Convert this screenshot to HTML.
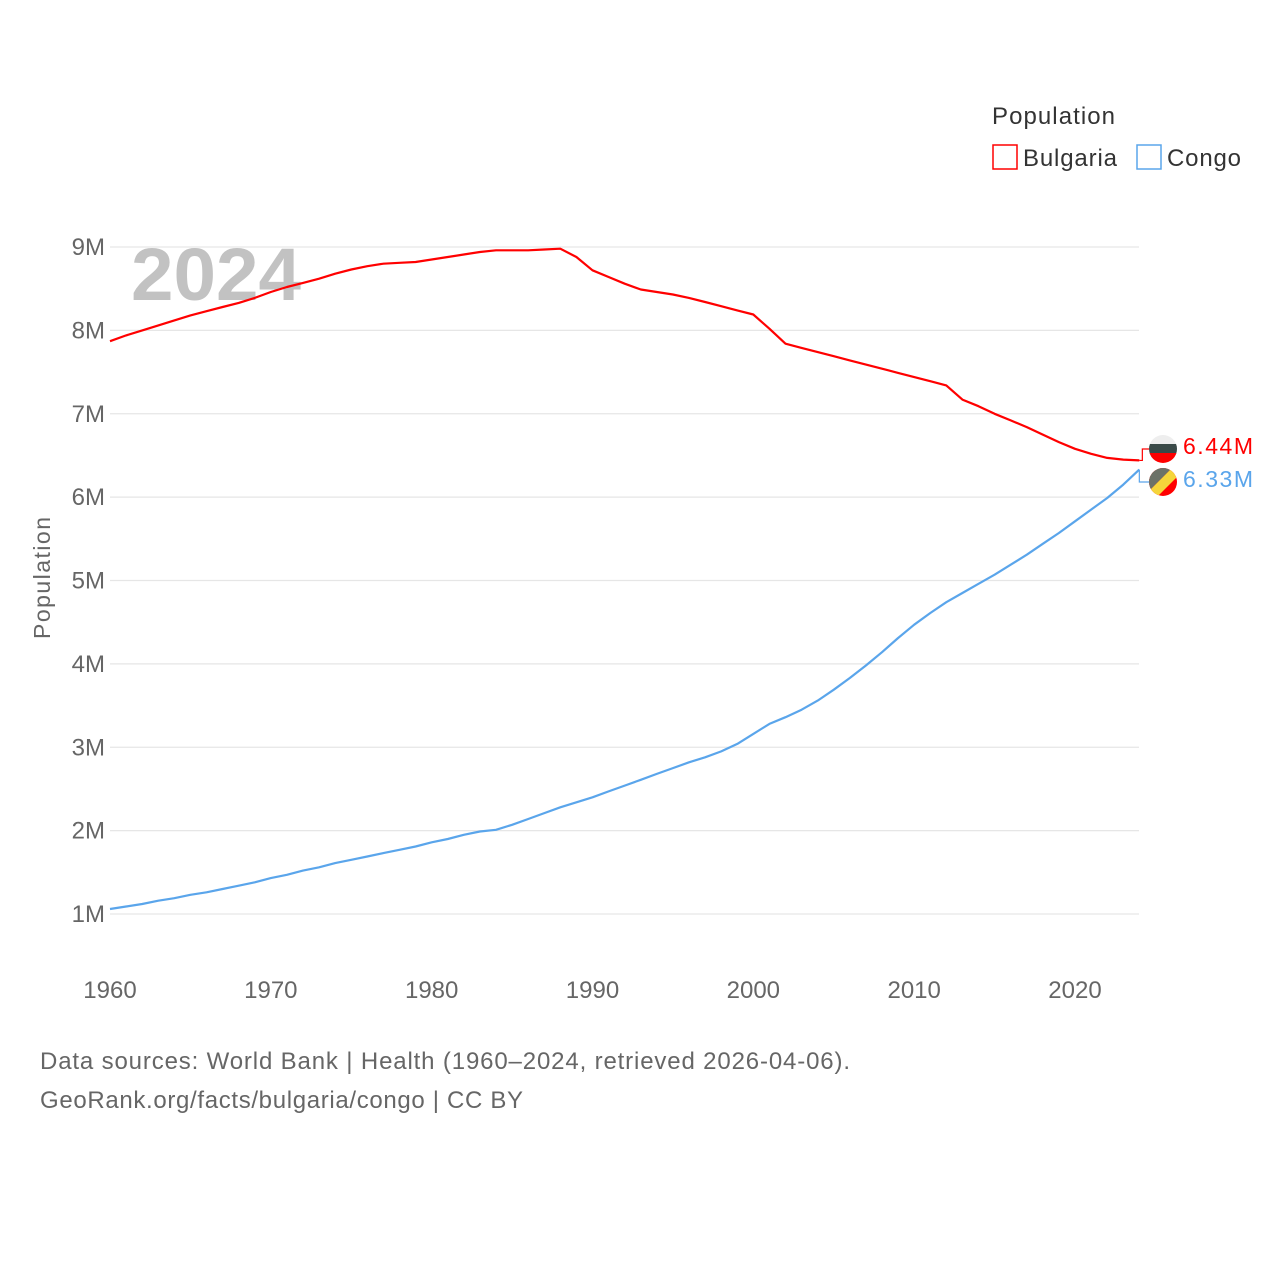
<!DOCTYPE html>
<html><head><meta charset="utf-8">
<style>
body{margin:0;background:#fff;font-family:"Liberation Sans",sans-serif;}
svg text{font-family:"Liberation Sans",sans-serif;}
</style></head>
<body>
<svg id="chart" width="1280" height="1280" viewBox="0 0 1280 1280">
<defs>
<clipPath id="c1"><circle cx="1163" cy="449" r="14"/></clipPath>
<clipPath id="c2"><circle cx="1163" cy="482" r="14"/></clipPath>
</defs>
<g id="grid"></g>
<g id="yticks"></g>
<g id="xticks"></g>
<text x="131" y="300" font-size="74" font-weight="bold" fill="#c2c2c2" textLength="170" lengthAdjust="spacingAndGlyphs">2024</text>
<text transform="translate(50,578) rotate(-90)" text-anchor="middle" font-size="23" fill="#666" textLength="122">Population</text>
<g id="series"></g>
<g>
<text x="992" y="124" font-size="24" fill="#333" textLength="123">Population</text>
<g><rect x="993" y="145" width="24" height="24" fill="none" stroke="#f00" stroke-width="1.5"/><text x="1023" y="166" font-size="24" fill="#333" textLength="94">Bulgaria</text></g>
<g><rect x="1137" y="145" width="24" height="24" fill="none" stroke="#5aa5eb" stroke-width="1.5"/><text x="1167" y="166" font-size="24" fill="#333" textLength="74">Congo</text></g>
</g>
<g clip-path="url(#c1)">
<rect x="1149" y="435" width="28" height="10" fill="#eee"/><rect x="1149" y="444" width="28" height="10" fill="#3a4a48"/><rect x="1149" y="453" width="28" height="12" fill="#f00"/>
</g>
<g clip-path="url(#c2)">
<rect x="1149" y="468" width="28" height="28" fill="#f00"/>
<polygon points="1149,468 1172,468 1149,491" fill="#6c7268"/>
<polygon points="1172,468 1180,468 1180,474 1155,499 1149,499 1149,491" fill="#f5d53b"/>
</g>
<text x="1183" y="454" font-size="23" fill="#f00" textLength="70">6.44M</text>
<text x="1183" y="487" font-size="23" fill="#5aa5eb" textLength="70">6.33M</text>
<text x="40" y="1069" font-size="24" fill="#666" textLength="810">Data sources: World Bank | Health (1960–2024, retrieved 2026-04-06).</text>
<text x="40" y="1108" font-size="24" fill="#666" textLength="483">GeoRank.org/facts/bulgaria/congo | CC BY</text>
</svg>
<script>
const years=[];for(let y=1960;y<=2024;y++)years.push(y);
const bulgaria=[7.87,7.94,8.00,8.06,8.12,8.18,8.23,8.28,8.33,8.39,8.46,8.52,8.57,8.62,8.68,8.73,8.77,8.80,8.81,8.82,8.85,8.88,8.91,8.94,8.96,8.96,8.96,8.97,8.98,8.88,8.72,8.64,8.56,8.49,8.46,8.43,8.39,8.34,8.29,8.24,8.19,8.02,7.84,7.79,7.74,7.69,7.64,7.59,7.54,7.49,7.44,7.39,7.34,7.17,7.09,7.00,6.92,6.84,6.75,6.66,6.58,6.52,6.47,6.45,6.44];
const congo=[1.06,1.09,1.12,1.16,1.19,1.23,1.26,1.30,1.34,1.38,1.43,1.47,1.52,1.56,1.61,1.65,1.69,1.73,1.77,1.81,1.86,1.90,1.95,1.99,2.01,2.07,2.14,2.21,2.28,2.34,2.40,2.47,2.54,2.61,2.68,2.75,2.82,2.88,2.95,3.04,3.16,3.28,3.36,3.45,3.56,3.69,3.83,3.98,4.14,4.31,4.47,4.61,4.74,4.85,4.96,5.07,5.19,5.31,5.44,5.57,5.71,5.85,5.99,6.15,6.33];
const yTicks=[1,2,3,4,5,6,7,8,9];
const xTicks=[1960,1970,1980,1990,2000,2010,2020];
const NS="http://www.w3.org/2000/svg";
const X=y=>110+(y-1960)*(1075-110)/60;
const Y=v=>914-(v-1)*(914-247)/8;
function mk(tag,attrs,parent){const e=document.createElementNS(NS,tag);for(const k in attrs)e.setAttribute(k,attrs[k]);parent.appendChild(e);return e;}
const grid=document.getElementById('grid'),yt=document.getElementById('yticks'),xt=document.getElementById('xticks'),ser=document.getElementById('series');
yTicks.forEach(v=>{
 const l=mk('line',{x1:110,x2:1139,y1:Y(v),y2:Y(v),stroke:'#e6e6e6','stroke-width':1.2},grid);
 
 
 const t=mk('text',{x:105,y:Y(v)+8,'text-anchor':'end','font-size':24,fill:'#666'},yt);t.textContent=v+'M';
 
 
});
xTicks.forEach(v=>{
 const t=mk('text',{x:X(v),y:998,'text-anchor':'middle','font-size':24,fill:'#666'},xt);t.textContent=v;
 
 
});
function line(data,color,name){
 const d=data.map((v,i)=>(i?'L':'M')+X(years[i]).toFixed(1)+','+Y(v).toFixed(1)).join('');
 const p=mk('path',{d:d,fill:'none',stroke:color,'stroke-width':2.2,'stroke-linejoin':'round'},ser);
 
 
}
line(bulgaria,'#f00','bulgaria-line');
line(congo,'#5aa5eb','congo-line');
const lx=X(2024),by=Y(bulgaria[bulgaria.length-1]),cy=Y(congo[congo.length-1]);
const c1=mk('path',{d:`M${lx},${by}H${lx+3}V449H1149`,fill:'none',stroke:'#f00','stroke-width':1.2},ser);


const c2=mk('path',{d:`M${lx},${cy}H${lx+0}V482H1149`,fill:'none',stroke:'#5aa5eb','stroke-width':1.2},ser);


</script>
</body></html>
